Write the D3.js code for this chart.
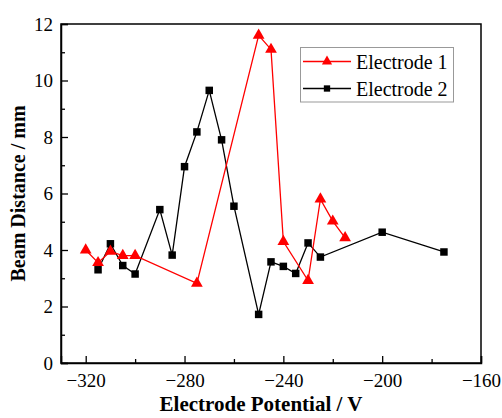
<!DOCTYPE html>
<html>
<head>
<meta charset="utf-8">
<script src="https://cdn.jsdelivr.net/npm/d3@7"></script>
<style>
  body { margin: 0; background: #fff; }
  svg text { font-family: "Liberation Serif", "Times New Roman", Times, "DejaVu Serif", serif !important; }
</style>
</head>
<body>
<div id="chart"></div>
<script>
// Electrode 1 (red triangles)
const e1X = [-320, -315, -310, -305, -300, -275, -250, -245, -240, -230, -225, -220, -215];
const e1Y = [4.0, 3.55, 3.95, 3.8, 3.8, 2.82, 11.6, 11.1, 4.3, 2.92, 5.8, 5.02, 4.43];

// Electrode 2 (black squares)
const e2X = [-315, -310, -305, -300, -290, -285, -280, -275, -270, -265, -260, -250, -245, -240, -235, -230, -225, -200, -175];
const e2Y = [3.3, 4.22, 3.45, 3.15, 5.43, 3.82, 6.95, 8.18, 9.65, 7.9, 5.55, 1.72, 3.58, 3.42, 3.17, 4.25, 3.75, 4.63, 3.93];

const xTicks = [-320, -280, -240, -200, -160];
const yTicks = [0, 2, 4, 6, 8, 10, 12];
const seriesNames = ["Electrode 1", "Electrode 2"];

const width = 502, height = 418;
const margin = { top: 24, right: 21, bottom: 55, left: 61 };

const svg = d3.select('#chart')
    .append('svg')
    .attr('width', width)
    .attr('height', height);

const x = d3.scaleLinear().domain([-330, -160]).range([margin.left, width - margin.right]);
const y = d3.scaleLinear().domain([0, 12]).range([height - margin.bottom, margin.top]);

// frame (top and right sides)
svg.append('rect')
    .attr('x', margin.left)
    .attr('y', margin.top)
    .attr('width', width - margin.left - margin.right)
    .attr('height', height - margin.top - margin.bottom)
    .attr('fill', 'none')
    .attr('stroke', '#000')
    .attr('stroke-width', 1.5);

// x axis: major ticks every 40, minor every 20, pointing inwards
svg.append('g')
    .attr('transform', `translate(0,${y(0)})`)
    .call(d3.axisBottom(x).tickValues(xTicks).tickSize(-7).tickPadding(11)
        .tickFormat(d => String(d).replace('-', '\u2212')));
svg.append('g')
    .attr('transform', `translate(0,${y(0)})`)
    .call(d3.axisBottom(x).tickValues([-300, -260, -220, -180]).tickSize(-4).tickFormat(''))
    .call(g => g.select('.domain').remove());

svg.append('g')
    .attr('transform', `translate(${x(-330)},0)`)
    .call(d3.axisLeft(y).tickValues(yTicks).tickSize(-7).tickPadding(8));
svg.append('g')
    .attr('transform', `translate(${x(-330)},0)`)
    .call(d3.axisLeft(y).tickValues([1, 3, 5, 7, 9, 11]).tickSize(-4).tickFormat(''))
    .call(g => g.select('.domain').remove());

svg.selectAll('.domain').attr('stroke-width', 1.5);
svg.selectAll('.tick line').attr('stroke-width', 1.3);
svg.selectAll('.tick text')
    .attr('font-size', 19)
    .attr('fill', '#000');

// axis titles
svg.append('text')
    .attr('x', 261)
    .attr('y', 411)
    .attr('text-anchor', 'middle')
    .attr('font-size', 21)
    .attr('font-weight', 'bold')
    .text('Electrode Potential / V');

svg.append('text')
    .attr('transform', `translate(25,${(margin.top + height - margin.bottom) / 2}) rotate(-90)`)
    .attr('text-anchor', 'middle')
    .attr('font-size', 20)
    .attr('font-weight', 'bold')
    .text('Beam Distance / mm');

const line = d3.line().x(d => x(d[0])).y(d => y(d[1]));
const tri = d3.symbol().type(d3.symbolTriangle).size(60);
const sq = d3.symbol().type(d3.symbolSquare).size(56);

const e1 = e1X.map((v, i) => [v, e1Y[i]]);
const e2 = e2X.map((v, i) => [v, e2Y[i]]);

// Electrode 2
svg.append('path').datum(e2)
    .attr('d', line)
    .attr('fill', 'none')
    .attr('stroke', '#000')
    .attr('stroke-width', 1.3);
svg.selectAll('.sq').data(e2).enter().append('path')
    .attr('class', 'sq')
    .attr('d', sq)
    .attr('transform', d => `translate(${x(d[0])},${y(d[1])})`)
    .attr('fill', '#000');

// Electrode 1
svg.append('path').datum(e1)
    .attr('d', line)
    .attr('fill', 'none')
    .attr('stroke', '#f00')
    .attr('stroke-width', 1.3);
svg.selectAll('.tri').data(e1).enter().append('path')
    .attr('class', 'tri')
    .attr('d', tri)
    .attr('transform', d => `translate(${x(d[0])},${y(d[1])})`)
    .attr('fill', '#f00');

// legend
const legend = svg.append('g');
legend.append('rect')
    .attr('x', 300.5).attr('y', 47.5)
    .attr('width', 153).attr('height', 54.5)
    .attr('fill', '#fff')
    .attr('stroke', '#999')
    .attr('stroke-width', 1);
const colors = ['#f00', '#000'];
seriesNames.forEach((name, i) => {
    const cy = 61.5 + i * 27;
    legend.append('line')
        .attr('x1', 303).attr('x2', 351)
        .attr('y1', cy).attr('y2', cy)
        .attr('stroke', colors[i]).attr('stroke-width', 1.3);
    legend.append('path')
        .attr('d', i === 0 ? d3.symbol().type(d3.symbolTriangle).size(45)() : d3.symbol().type(d3.symbolSquare).size(40)())
        .attr('transform', `translate(327,${cy})`)
        .attr('fill', colors[i]);
    legend.append('text')
        .attr('x', 356).attr('y', cy + 7)
        .attr('font-size', 20)
        .text(name);
});
</script>
</body>
</html>
